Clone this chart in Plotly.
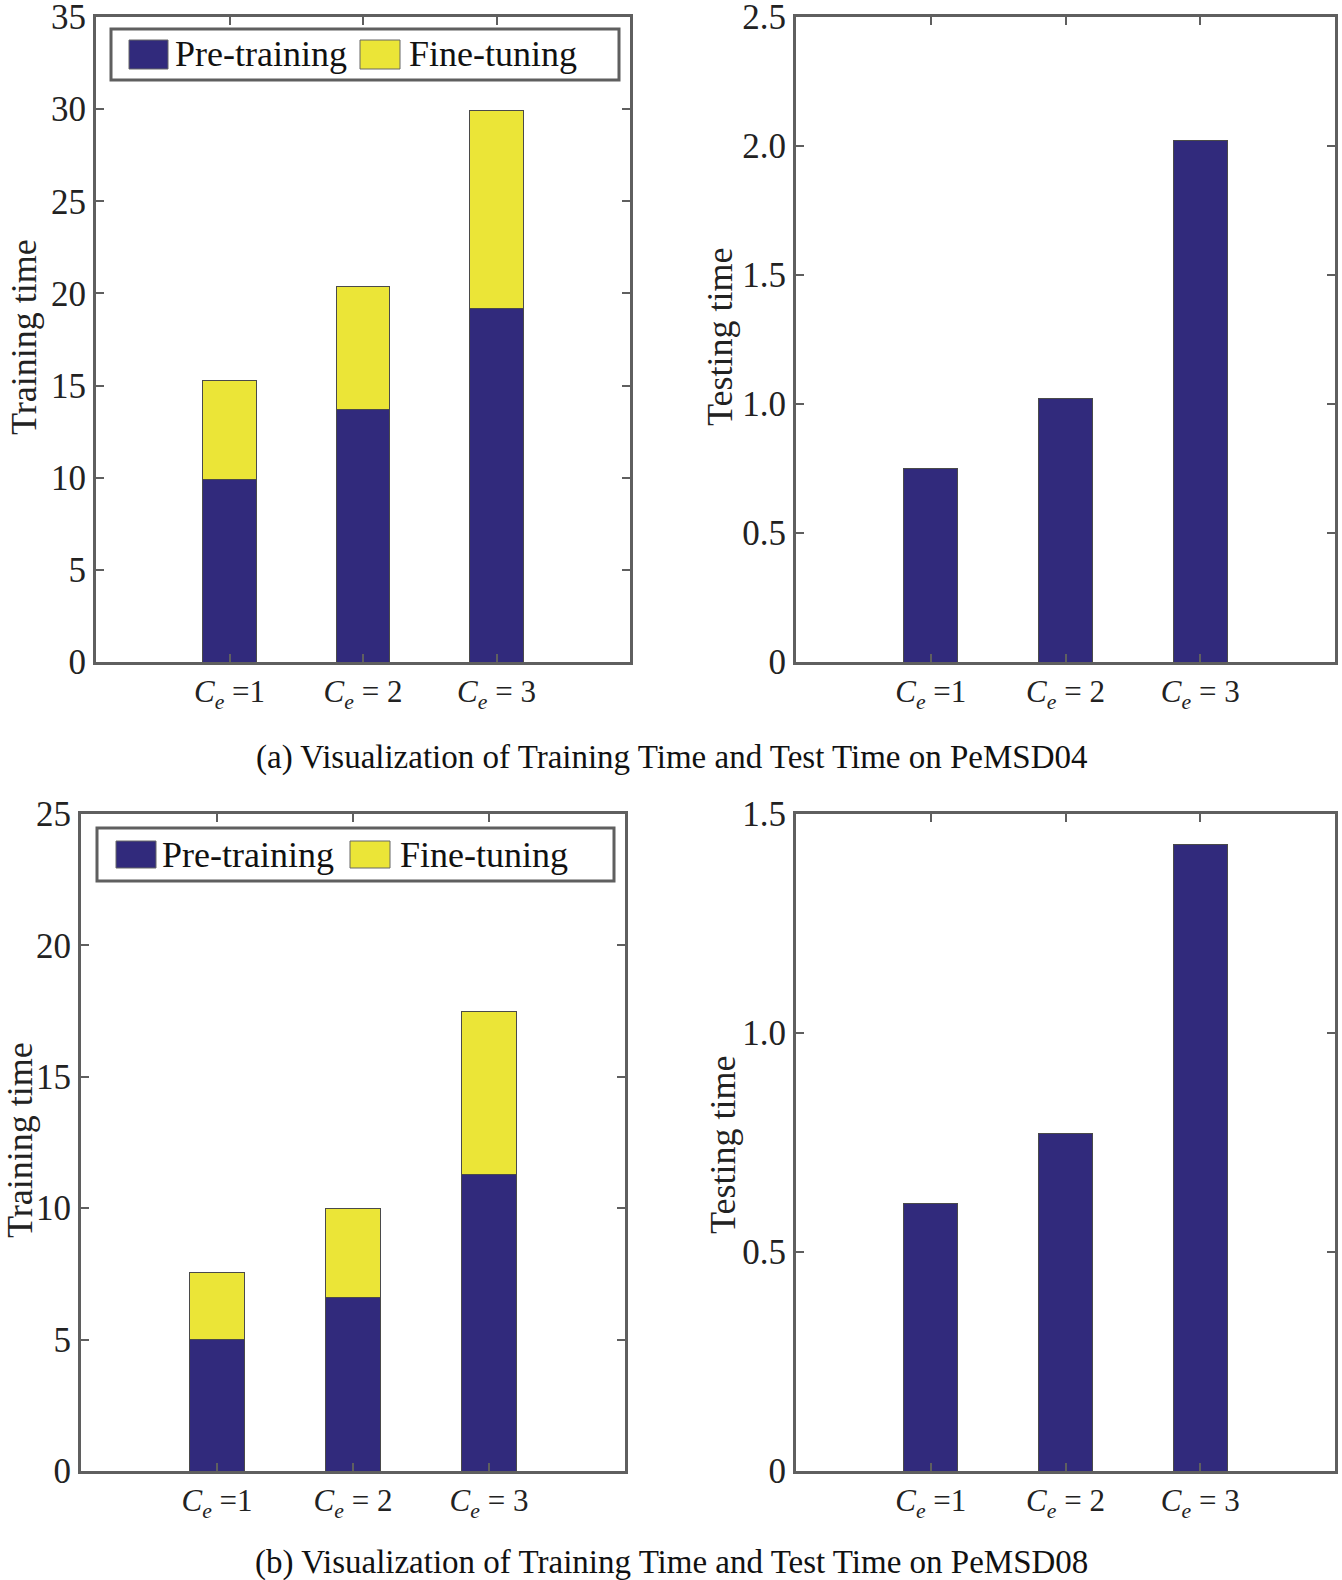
import plotly.graph_objects as go

# ---------------- data ----------------
categories = [1, 2, 3]
tick_labels = ["<i>C</i><sub><i>e</i></sub> =1", "<i>C</i><sub><i>e</i></sub> = 2", "<i>C</i><sub><i>e</i></sub> = 3"]

pems04_pretrain = [9.9, 13.7, 19.2]
pems04_finetune = [5.4, 6.7, 10.7]
pems04_test = [0.75, 1.02, 2.02]

pems08_pretrain = [5.0, 6.6, 11.3]
pems08_finetune = [2.55, 3.4, 6.2]
pems08_test = [0.61, 0.77, 1.43]

train04_ticks = [0, 5, 10, 15, 20, 25, 30, 35]
test04_ticks = [0, 0.5, 1.0, 1.5, 2.0, 2.5]
test04_ticktext = ["0", "0.5", "1.0", "1.5", "2.0", "2.5"]
train08_ticks = [0, 5, 10, 15, 20, 25]
test08_ticks = [0, 0.5, 1.0, 1.5]
test08_ticktext = ["0", "0.5", "1.0", "1.5"]

series_names = ["Pre-training", "Fine-tuning"]
y_titles = ["Training time", "Testing time", "Training time", "Testing time"]
captions = ["(a) Visualization of Training Time and Test Time on PeMSD04",
            "(b) Visualization of Training Time and Test Time on PeMSD08"]

# ---------------- style ----------------
W, H = 1342, 1580
BLUE = "#312a7c"
YELLOW = "#ebe537"
AX = "#5f5f5f"
FONT = "Liberation Serif, 'Times New Roman', serif"


def px(x):
    return x / W


def py(y):
    return 1 - y / H


fig = go.Figure()

bar_line = dict(color="#4a4a4a", width=1)
BW = 0.4

# top-left
fig.add_trace(go.Bar(x=categories, y=pems04_pretrain, width=BW, marker=dict(color=BLUE, line=bar_line),
                     name=series_names[0], xaxis="x", yaxis="y", showlegend=False))
fig.add_trace(go.Bar(x=categories, y=pems04_finetune, width=BW, marker=dict(color=YELLOW, line=bar_line),
                     name=series_names[1], xaxis="x", yaxis="y", showlegend=False))
# top-right
fig.add_trace(go.Bar(x=categories, y=pems04_test, width=BW, marker=dict(color=BLUE, line=bar_line),
                     name="Testing", xaxis="x2", yaxis="y2", showlegend=False))
# bottom-left
fig.add_trace(go.Bar(x=categories, y=pems08_pretrain, width=BW, marker=dict(color=BLUE, line=bar_line),
                     name=series_names[0], xaxis="x3", yaxis="y3", showlegend=False))
fig.add_trace(go.Bar(x=categories, y=pems08_finetune, width=BW, marker=dict(color=YELLOW, line=bar_line),
                     name=series_names[1], xaxis="x3", yaxis="y3", showlegend=False))
# bottom-right
fig.add_trace(go.Bar(x=categories, y=pems08_test, width=BW, marker=dict(color=BLUE, line=bar_line),
                     name="Testing", xaxis="x4", yaxis="y4", showlegend=False))

# panel pixel boxes (left, right, top, bottom)
panels = {
    1: (96, 630, 17, 662),
    2: (796, 1335, 17, 662),
    3: (81, 625, 814, 1471),
    4: (796, 1335, 814, 1471),
}
# y-title centres (x, y) in pixels
ytitle_pos = {1: (24, 337), 2: (720, 337), 3: (20, 1140), 4: (723, 1145)}

common_x = dict(range=[0, 4], tickvals=categories, ticktext=tick_labels, ticks="inside", ticklen=8,
                tickwidth=2, tickcolor=AX, showline=True, linecolor=AX, linewidth=3, mirror="ticks",
                showgrid=False, zeroline=False, tickfont=dict(family=FONT, size=31, color="#222"),
                fixedrange=True, automargin=False, ticklabeloverflow="allow")
common_y = dict(ticks="inside", ticklen=8, tickwidth=2, tickcolor=AX, showline=True, linecolor=AX,
                linewidth=3, mirror="ticks", showgrid=False, zeroline=False,
                tickfont=dict(family=FONT, size=35, color="#222"), fixedrange=True, automargin=False,
                ticklabeloverflow="allow")

yranges = {1: [0, 35], 2: [0, 2.5], 3: [0, 25], 4: [0, 1.5]}
ytickvals = {1: train04_ticks, 2: test04_ticks, 3: train08_ticks, 4: test08_ticks}
yticktext = {1: [str(v) for v in train04_ticks], 2: test04_ticktext,
             3: [str(v) for v in train08_ticks], 4: test08_ticktext}

layout = {}
for i, (l, r, t, b) in panels.items():
    sx = "" if i == 1 else str(i)
    layout["xaxis" + sx] = dict(common_x, domain=[px(l), px(r)], anchor="y" + sx)
    layout["yaxis" + sx] = dict(common_y, domain=[py(b), py(t)], anchor="x" + sx, range=yranges[i],
                                tickvals=ytickvals[i], ticktext=yticktext[i])

fig.update_layout(**layout)

shapes = []
annotations = []

for i, (tx, ty) in ytitle_pos.items():
    annotations.append(dict(xref="paper", yref="paper", x=px(tx), y=py(ty), text=y_titles[i - 1],
                            showarrow=False, textangle=-90, xanchor="center", yanchor="middle",
                            font=dict(family=FONT, size=36, color="#222")))


def add_legend(box, sw1, txt1, sw2, txt2, sw_y):
    x0, x1, y0, y1 = box
    shapes.append(dict(type="rect", xref="paper", yref="paper", x0=px(x0), x1=px(x1), y0=py(y1), y1=py(y0),
                       line=dict(color=AX, width=3), fillcolor="white", layer="above"))
    for (a, bb), col in ((sw1, BLUE), (sw2, YELLOW)):
        shapes.append(dict(type="rect", xref="paper", yref="paper", x0=px(a), x1=px(bb),
                           y0=py(sw_y[1]), y1=py(sw_y[0]), line=dict(color="#666", width=1),
                           fillcolor=col, layer="above"))
    yc = (sw_y[0] + sw_y[1]) / 2
    for tx, name in ((txt1, series_names[0]), (txt2, series_names[1])):
        annotations.append(dict(xref="paper", yref="paper", x=px(tx), y=py(yc), text=name, showarrow=False,
                                xanchor="left", yanchor="middle",
                                font=dict(family=FONT, size=36, color="#111")))


add_legend((111, 619, 29, 80), (129, 168), 173, (360, 400), 407, (40, 69))
add_legend((97, 614, 828, 881), (116, 156), 160, (350, 390), 398, (841, 868))

for cap, yy in zip(captions, [757, 1562]):
    annotations.append(dict(xref="paper", yref="paper", x=px(671), y=py(yy), text=cap, showarrow=False,
                            xanchor="center", yanchor="middle", font=dict(family=FONT, size=33, color="#111")))

fig.update_layout(
    width=W, height=H, margin=dict(l=0, r=0, t=0, b=0, autoexpand=False), autosize=False,
    paper_bgcolor="white", plot_bgcolor="white", barmode="stack", bargap=0,
    shapes=shapes, annotations=annotations, showlegend=False,
)

fig.write_html("out.html", config={"displayModeBar": False, "staticPlot": True},
               post_script="document.body.style.margin='0';document.body.style.overflow='hidden';")
